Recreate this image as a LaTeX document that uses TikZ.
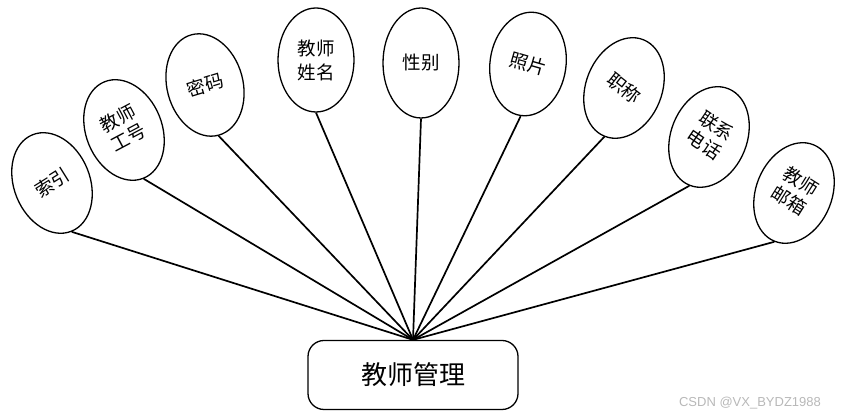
\documentclass[tikz,border=0pt]{standalone}
\usepackage{fontspec}
\usetikzlibrary{shapes.geometric}
\newfontfamily\cjk{Noto Sans CJK SC}
\newfontfamily\wmfont{Liberation Sans}
\begin{document}
\begin{tikzpicture}[x=1pt,y=1pt,
		attr/.style={ellipse,draw,line width=1.3pt,minimum width=76pt,minimum height=104pt,inner sep=0pt,font=\cjk\fontsize{18.5}{24}\selectfont,align=center},
		link/.style={line width=1.7pt}]
		\useasboundingbox (0,0) rectangle (843,419);
		\node[draw,rounded corners=16pt,line width=1.3pt,minimum width=210pt,minimum height=69pt,font=\cjk\fontsize{26}{30}\selectfont] (mgr) at (413,44) {教师管理};
		\node[attr,rotate=22] (idx) at (52,236) {\rotatebox{10}{索引}};
		\node[attr,rotate=22] (tno) at (124,289) {\rotatebox{6}{\begin{tabular}{@{}c@{}}教师\\[-2pt]工号\end{tabular}}};
		\node[attr,rotate=15] (pwd) at (205,334) {\rotatebox{2}{密码}};
		\node[attr] (tname) at (316,359) {教师\\姓名};
		\node[attr,minimum height=110pt] (sex) at (421,356) {性别};
		\node[attr,rotate=-8] (photo) at (528,355) {\rotatebox{-8}{照片}};
		\node[attr,rotate=-22] (title) at (624,331) {\rotatebox{-16}{职称}};
		\node[attr,rotate=-22] (tel) at (709,282) {\rotatebox{-12}{\begin{tabular}{@{}c@{}}联系\\[-2pt]电话\end{tabular}}};
		\node[attr,rotate=-22] (mail) at (794,226) {\rotatebox{-10}{\begin{tabular}{@{}c@{}}教师\\[-2pt]邮箱\end{tabular}}};
		\foreach \a in {idx,tno,pwd,tname,sex,photo,title,tel,mail}
			\draw[link] (mgr.north) -- (\a.south);
		\node[text=black!28,font=\wmfont\fontsize{13}{15}\selectfont] (wm) at (750,16) {CSDN @VX\_BYDZ1988};
	\end{tikzpicture}
\end{document}
